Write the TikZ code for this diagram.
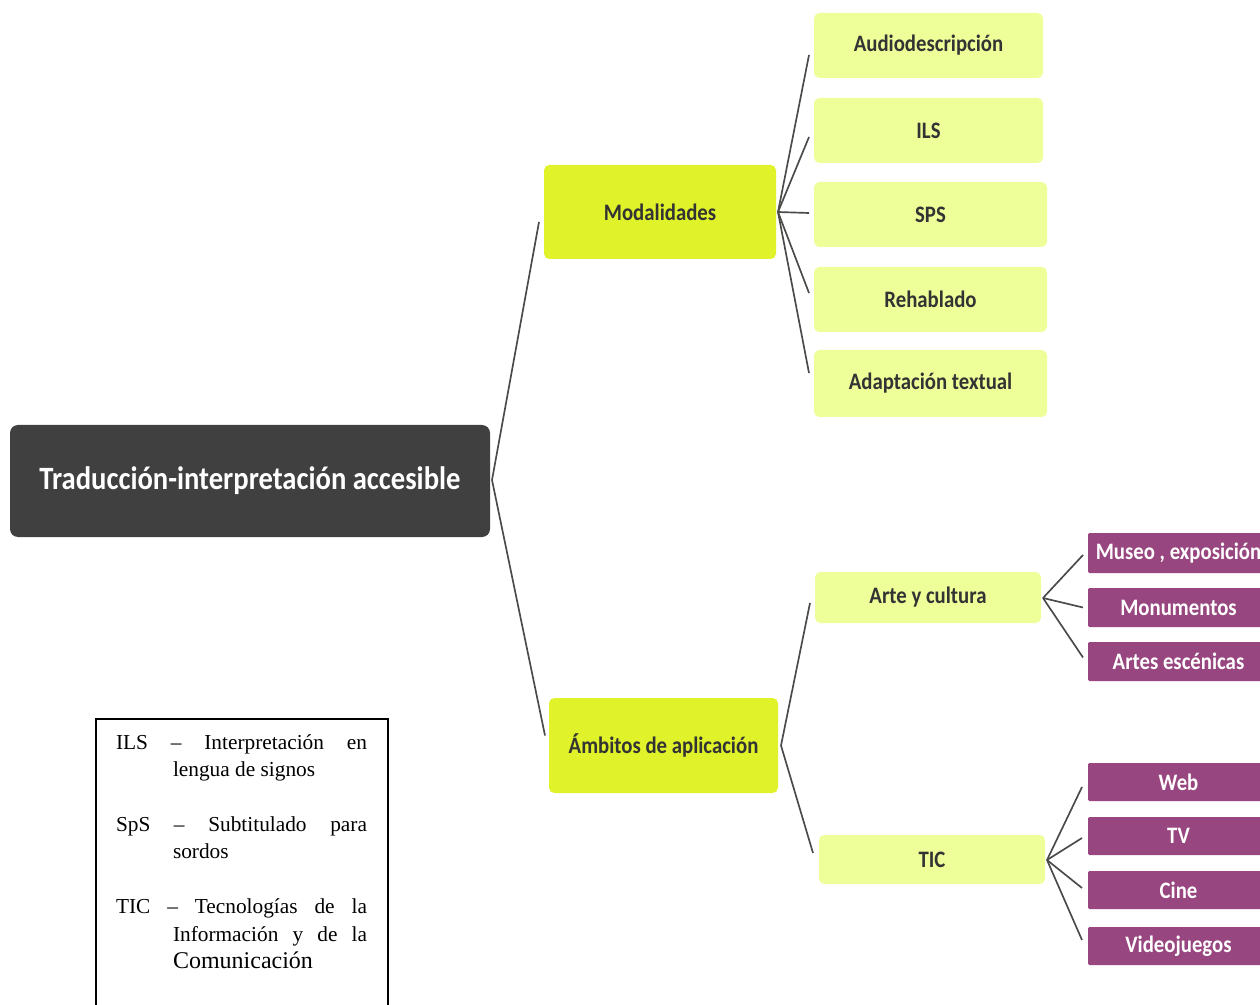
\documentclass[tikz,border=0pt]{standalone}
\usepackage{fontspec}
\setmainfont{Liberation Serif}
\newfontfamily\mapfont[FakeStretch=0.88]{Carlito}
\usetikzlibrary{calc}

\definecolor{rootgray}{HTML}{404040}
\definecolor{lime}{HTML}{DFF22A}
\definecolor{palelime}{HTML}{EEFF99}
\definecolor{plum}{HTML}{984680}
\definecolor{linkgray}{HTML}{4A4A4A}
\definecolor{labeldark}{HTML}{333333}

% box given by its corners (in px units): name, style, x1, y1, x2, y2, text
\newcommand\mapbox[7]{%
  \node[#2, minimum width={(#5-#3)*0.75pt}, minimum height={(#6-#4)*0.75pt}]
    (#1) at ({(#3+#5)/2},{(#4+#6)/2}) {#7};}

\begin{document}
\begin{tikzpicture}[x=0.75pt,y=-0.75pt,
  every node/.style={inner sep=0pt, outer sep=0pt},
  mapnode/.style={rounded corners=4pt, align=center,
    font=\mapfont\bfseries\fontsize{17.7}{20}\selectfont},
  rootnode/.style={mapnode, fill=rootgray, text=white, rounded corners=6pt,
    font=\mapfont\bfseries\fontsize{24.4}{28}\selectfont},
  branchnode/.style={mapnode, fill=lime, text=labeldark},
  leafnode/.style={mapnode, fill=palelime, text=labeldark},
  mediumnode/.style={mapnode, fill=plum, text=white, rounded corners=1pt},
  link/.style={draw=linkgray, line width=1.25pt, line join=round}]

\useasboundingbox (0,0) rectangle (1260,1005);
\fill[white] (0,0) rectangle (1260,1005);

% root and main branches
\mapbox{root}{rootnode}{10}{425}{490}{537}{Traducción-interpretación accesible}
\mapbox{mod}{branchnode}{544}{165}{776}{259}{Modalidades}
\mapbox{amb}{branchnode}{549}{698}{778}{793}{Ámbitos de aplicación}

% modalities
\mapbox{audio}{leafnode}{814}{13}{1043}{78}{Audiodescripción}
\mapbox{ils}{leafnode}{814}{98}{1043}{163}{ILS}
\mapbox{sps}{leafnode}{814}{182}{1047}{247}{SPS}
\mapbox{reh}{leafnode}{814}{267}{1047}{332}{Rehablado}
\mapbox{adapt}{leafnode}{814}{350}{1047}{417}{Adaptación textual}

% fields of application
\mapbox{arte}{leafnode}{815}{572}{1041}{623}{Arte y cultura}
\mapbox{tic}{leafnode}{819}{835}{1045}{884}{TIC}

% media
\mapbox{museo}{mediumnode}{1088}{533}{1269}{573}{Museo , exposición}
\mapbox{monu}{mediumnode}{1088}{588}{1269}{627}{Monumentos}
\mapbox{artes}{mediumnode}{1088}{642}{1269}{681}{Artes escénicas}
\mapbox{web}{mediumnode}{1088}{763}{1269}{801}{Web}
\mapbox{tv}{mediumnode}{1088}{817}{1269}{855}{TV}
\mapbox{cine}{mediumnode}{1088}{871}{1269}{909}{Cine}
\mapbox{video}{mediumnode}{1088}{927}{1269}{965}{Videojuegos}

% fan hubs and line ends
\coordinate (root-hub) at ($(root.east)+(2,-1)$);
\coordinate (mod-in) at ($(mod.west)+(-5,10)$);
\coordinate (amb-in) at ($(amb.west)+(-4,-10)$);

\coordinate (mod-hub) at ($(mod.east)+(2,0)$);
\coordinate (audio-in) at ($(audio.west)+(-5,9.5)$);
\coordinate (ils-in) at ($(ils.west)+(-5,6.5)$);
\coordinate (sps-in) at ($(sps.west)+(-5,-1.5)$);
\coordinate (reh-in) at ($(reh.west)+(-5,-6.5)$);
\coordinate (adapt-in) at ($(adapt.west)+(-5,-10.5)$);

\coordinate (amb-hub) at ($(amb.east)+(3,0)$);
\coordinate (arte-in) at ($(arte.west)+(-5,5.5)$);
\coordinate (tic-in) at ($(tic.west)+(-6,-6.5)$);

\coordinate (arte-hub) at ($(arte.east)+(2,0.5)$);
\coordinate (museo-in) at ($(museo.west)+(-5,2)$);
\coordinate (monu-in) at ($(monu.west)+(-5,0)$);
\coordinate (artes-in) at ($(artes.west)+(-5,-4)$);

\coordinate (tic-hub) at ($(tic.east)+(2,0.5)$);
\coordinate (web-in) at ($(web.west)+(-6,5)$);
\coordinate (tv-in) at ($(tv.west)+(-6,2)$);
\coordinate (cine-in) at ($(cine.west)+(-6,-2)$);
\coordinate (video-in) at ($(video.west)+(-6,-6)$);

% connectors
\draw[link] (mod-in) -- (root-hub) -- (amb-in);
\foreach \leaf in {audio,ils,sps,reh,adapt}
  \draw[link] (mod-hub) -- (\leaf-in);
\draw[link] (arte-in) -- (amb-hub) -- (tic-in);
\foreach \leaf in {museo,monu,artes}
  \draw[link] (arte-hub) -- (\leaf-in);
\foreach \leaf in {web,tv,cine,video}
  \draw[link] (tic-hub) -- (\leaf-in);

% abbreviations
\coordinate (legend-nw) at (96,719);
\coordinate (legend-se) at (388,1030);
\draw[line width=1.5pt] (legend-nw) rectangle (legend-se);
\node[anchor=base west] (legend) at (116,749) {%
  \parbox[t]{188.25pt}{\fontsize{16}{20.6}\selectfont
    \hyphenpenalty=10000 \exhyphenpenalty=10000 \hbadness=10000
    \hangindent=42.75pt\hangafter=1
    ILS – Interpretación en\linebreak lengua de signos\par
    \vspace{20.6pt}
    \hangindent=42.75pt\hangafter=1
    SpS – Subtitulado para\linebreak sordos\par
    \vspace{20.6pt}
    \hangindent=42.75pt\hangafter=1
    TIC – Tecnologías de la\linebreak Información y de la\linebreak
    {\fontsize{18}{22}\selectfont Comunicación}\par}};

\end{tikzpicture}
\end{document}
